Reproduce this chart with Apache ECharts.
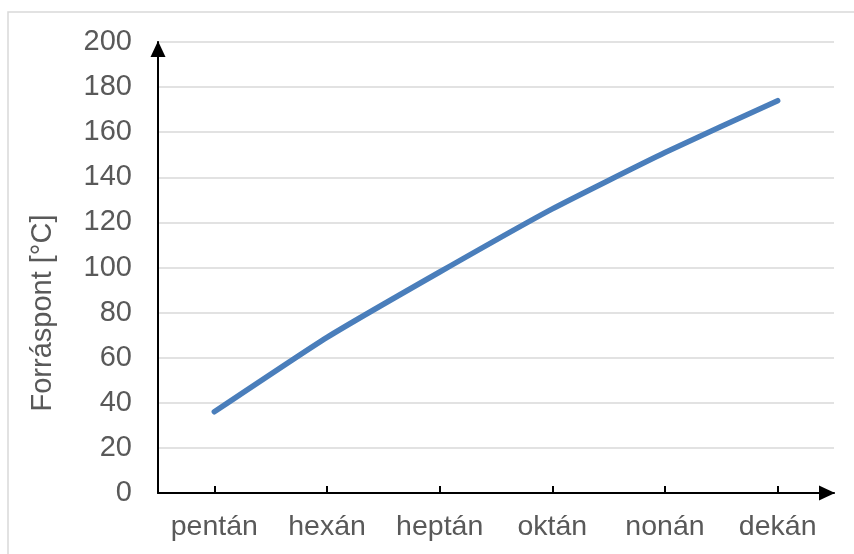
<!DOCTYPE html>
<html><head><meta charset="utf-8">
<script src="https://cdn.jsdelivr.net/npm/echarts@6/dist/echarts.min.js"></script>
<style>html,body{margin:0;padding:0;background:#fff}#c{width:854px;height:554px}</style>
</head><body><div id="c"></div>
<script>
const categories = ['pentán','hexán','heptán','oktán','nonán','dekán'];
const boilingPoints = [36, 69, 98, 126, 151, 174];
const yTicks = [0,20,40,60,80,100,120,140,160,180,200];
const yTitle = 'Forráspont [°C]';

const FONT = '"Liberation Sans", Arial, sans-serif';
const chart = echarts.init(document.getElementById('c'));
chart.setOption({
  animation: false,
  backgroundColor: '#fff',
  grid: {left: 158, top: 42, width: 676, height: 451, containLabel: false},
  graphic: [
    {type: 'rect', shape: {x: 8, y: 12, width: 900, height: 600}, style: {fill: 'none', stroke: '#d9d9d9', lineWidth: 1.5}, silent: true},
    {type: 'text', x: 43, y: 313, rotation: Math.PI/2, style: {text: yTitle, font: '29px ' + FONT, fill: '#595959', textAlign: 'center', textVerticalAlign: 'middle'}}
  ],
  xAxis: {
    type: 'category', data: categories, boundaryGap: true,
    axisLine: {lineStyle: {color: '#000', width: 2}, symbol: ['none','triangle'], symbolSize: [15, 16], symbolOffset: [0, -7]},
    axisTick: {show: true, alignWithLabel: true, interval: 0, inside: true, length: 7, lineStyle: {color: '#000', width: 2}},
    axisLabel: {interval: 0, hideOverlap: false, color: '#595959', fontSize: 28.5, fontFamily: FONT, margin: 20},
    splitLine: {show: false}
  },
  yAxis: {
    type: 'value', min: 0, max: 200, interval: 20,
    axisLine: {show: true, lineStyle: {color: '#000', width: 2}, symbol: ['none','triangle'], symbolSize: [15, 16], symbolOffset: [0, -7]},
    axisTick: {show: false},
    axisLabel: {color: '#595959', fontSize: 29, fontFamily: FONT, margin: 26,
      formatter: v => yTicks.includes(v) ? String(v) : ''},
    splitLine: {lineStyle: {color: '#d9d9d9', width: 1.5}}
  },
  series: [{
    type: 'line', data: boilingPoints, smooth: 0.15, showSymbol: false,
    lineStyle: {color: '#4a7ebb', width: 5.5, cap: 'round'}
  }]
});
</script></body></html>
